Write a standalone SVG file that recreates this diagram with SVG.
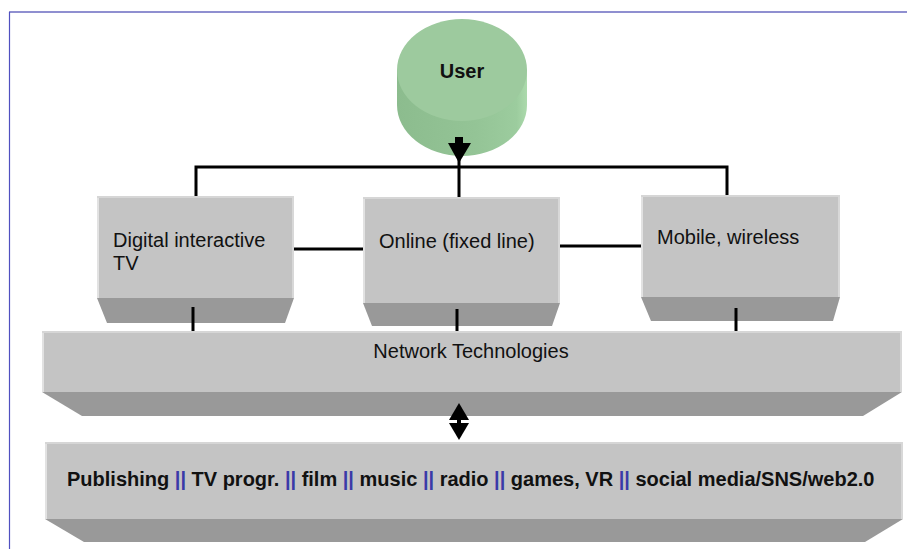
<svg xmlns="http://www.w3.org/2000/svg" width="907" height="549" viewBox="0 0 907 549">
<style>
.face{fill:#c4c4c4}
.bev{fill:#999999}
.hl{fill:#e2e2e2}
.t{font-family:"Liberation Sans",Arial,sans-serif;font-size:20px;fill:#111}
.b{font-weight:bold}
.sep{fill:#3a3aa8}
.ln{stroke:#000;stroke-width:3;fill:none}
</style>
<defs>
<linearGradient id="cyl" x1="0" x2="1" y1="0" y2="0">
<stop offset="0" stop-color="#8cbc8e"/>
<stop offset="0.6" stop-color="#94c496"/>
<stop offset="0.92" stop-color="#9ccc9e"/>
<stop offset="1" stop-color="#acdaac"/>
</linearGradient>
</defs>
<rect width="907" height="549" fill="#fff"/>
<g id="frame">
<line x1="9" y1="12" x2="907" y2="12" stroke="#6a6ac0" stroke-width="1.6"/>
<line x1="9.5" y1="12" x2="9.5" y2="549" stroke="#5050c0" stroke-width="1.2"/>
</g>
<g id="user">
<path d="M397,70 L397,105 A65,51 0 0 0 527,105 L527,70 Z" fill="url(#cyl)"/>
<ellipse cx="462" cy="70" rx="65" ry="51" fill="#9dca9e"/>
<text class="t b" x="462" y="78" text-anchor="middle">User</text>
</g>
<g id="dtv">
<rect class="face" x="97" y="196" width="197" height="102"/>
<rect class="hl" x="97" y="196" width="2" height="102"/>
<rect fill="#d6d6d6" x="97" y="196" width="197" height="2"/>
<rect fill="#d8d8d8" x="292" y="196" width="2" height="102"/>
<polygon class="bev" points="97,298 294,298 285,323 107,323"/>
<text class="t" x="113" y="247">Digital interactive</text>
<text class="t" x="113" y="270">TV</text>
</g>
<g id="online">
<rect class="face" x="363" y="197" width="197" height="106"/>
<rect class="hl" x="363" y="197" width="2" height="106"/>
<rect fill="#d6d6d6" x="363" y="197" width="197" height="2"/>
<rect fill="#d8d8d8" x="558" y="197" width="2" height="106"/>
<polygon class="bev" points="363,303 560,303 552,326 372,326"/>
<text class="t" x="379" y="248">Online (fixed line)</text>
</g>
<g id="mobile">
<rect class="face" x="641" y="195" width="199" height="102"/>
<rect class="hl" x="641" y="195" width="2" height="102"/>
<rect fill="#d6d6d6" x="641" y="195" width="199" height="2"/>
<rect fill="#d8d8d8" x="838" y="195" width="2" height="102"/>
<polygon class="bev" points="641,297 840,297 833,321 651,321"/>
<text class="t" x="657" y="244">Mobile, wireless</text>
</g>
<g id="network">
<rect class="face" x="42" y="331" width="860" height="61"/>
<rect class="hl" x="42" y="331" width="2" height="61"/>
<rect fill="#d6d6d6" x="42" y="331" width="860" height="2"/>
<rect fill="#d8d8d8" x="900" y="331" width="2" height="61"/>
<polygon class="bev" points="42,392 902,392 863,416 82,416"/>
<text class="t" x="471" y="358" text-anchor="middle">Network Technologies</text>
</g>
<g id="content">
<rect class="face" x="45" y="442" width="858" height="77"/>
<rect class="hl" x="45" y="442" width="2" height="77"/>
<rect fill="#d6d6d6" x="45" y="442" width="858" height="2"/>
<rect fill="#d8d8d8" x="901" y="442" width="2" height="77"/>
<polygon class="bev" points="45,519 903,519 865,542 84,542"/>
<text class="t b" x="67" y="486">Publishing <tspan class="sep">||</tspan> TV progr. <tspan class="sep">||</tspan> film <tspan class="sep">||</tspan> music <tspan class="sep">||</tspan> radio <tspan class="sep">||</tspan> games, VR <tspan class="sep">||</tspan> social media/SNS/web2.0</text>
</g>
<g id="connectors">
<polyline class="ln" points="196,196 196,167 727,167 727,195"/>
<line class="ln" x1="459" y1="140" x2="459" y2="197"/>
<rect x="455" y="137" width="8" height="7" fill="#000"/>
<polygon points="448,143 471,143 459,163" fill="#000"/>
<line class="ln" x1="294" y1="249" x2="363" y2="249"/>
<line class="ln" x1="560" y1="246" x2="641" y2="246"/>
<line class="ln" x1="193" y1="307" x2="193" y2="331"/>
<line class="ln" x1="457" y1="309" x2="457" y2="331"/>
<line class="ln" x1="736" y1="308" x2="736" y2="331"/>
<polygon points="459,403 449,420 469,420" fill="#000"/>
<rect x="457" y="419" width="4" height="5" fill="#000"/>
<polygon points="449,423 469,423 459,440" fill="#000"/>
</g>
</svg>
